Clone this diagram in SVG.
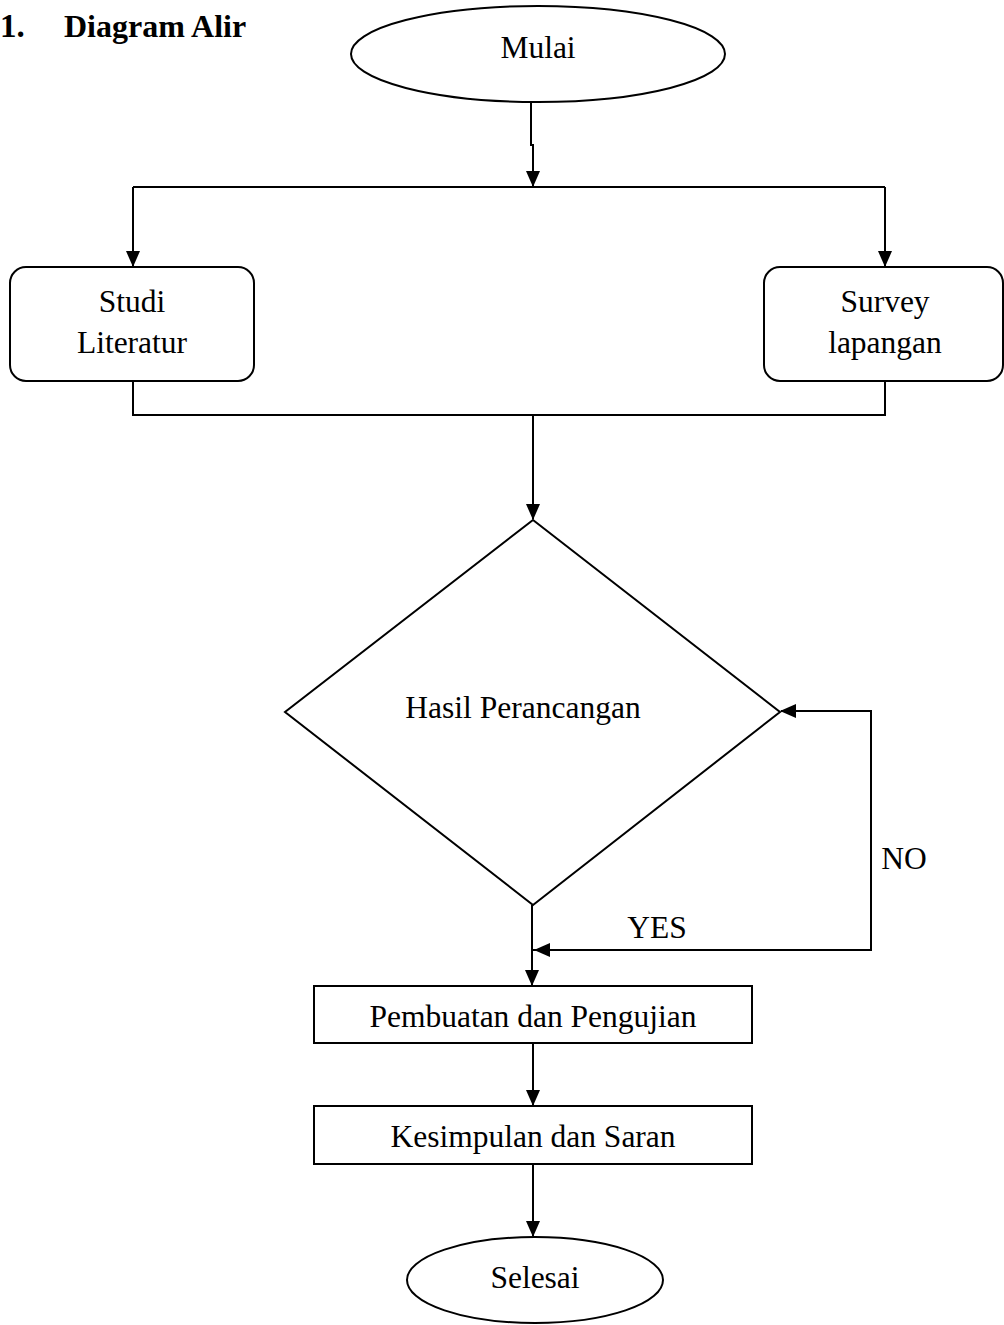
<svg xmlns="http://www.w3.org/2000/svg" width="1004" height="1325" viewBox="0 0 1004 1325">
<style>
.s{fill:#fff;stroke:#000;stroke-width:2}
.t{font-family:"Liberation Serif","Times New Roman",serif;font-size:31.5px;fill:#000;text-anchor:middle}
.h{font-family:"Liberation Serif","Times New Roman",serif;font-weight:bold;fill:#000}
.c{fill:none;stroke:#000;stroke-width:2}
</style>
<defs>
<marker id="a" markerWidth="16" markerHeight="14" refX="15" refY="7" orient="auto" markerUnits="userSpaceOnUse" viewBox="0 0 16 14">
<path d="M0,0 L16,7 L0,14 Z" fill="#000"/>
</marker>
</defs>
<rect width="1004" height="1325" fill="#fff"/>
<text class="h" x="0" y="37" font-size="33">1.</text>
<text class="h" x="64" y="37" font-size="32">Diagram Alir</text>
<g id="connectors">
<path class="c" d="M531,102 V145 H533 V186" marker-end="url(#a)"/>
<path class="c" d="M133,187 H885"/>
<path class="c" d="M133,187 V266" marker-end="url(#a)"/>
<path class="c" d="M885,187 V266" marker-end="url(#a)"/>
<path class="c" d="M133,381 V415 H885 V381"/>
<path class="c" d="M533,415 V519" marker-end="url(#a)"/>
<path class="c" d="M532,905 V985" marker-end="url(#a)"/>
<path class="c" d="M533,950 H871 V711 H781" marker-end="url(#a)"/>
<path class="c" d="M871,950 H535" marker-end="url(#a)"/>
<path class="c" d="M533,1043 V1105" marker-end="url(#a)"/>
<path class="c" d="M533,1164 V1236" marker-end="url(#a)"/>
<text class="t" x="904" y="869">NO</text>
<text class="t" x="657" y="938">YES</text>
</g>
<g id="mulai">
<ellipse class="s" cx="538" cy="54" rx="187" ry="48"/>
<text class="t" x="538" y="58">Mulai</text>
</g>
<g id="studi">
<rect class="s" x="10" y="267" width="244" height="114" rx="16"/>
<text class="t" x="132" y="312">Studi</text>
<text class="t" x="132" y="353">Literatur</text>
</g>
<g id="survey">
<rect class="s" x="764" y="267" width="239" height="114" rx="16"/>
<text class="t" x="885" y="312">Survey</text>
<text class="t" x="885" y="353">lapangan</text>
</g>
<g id="hasil">
<path class="s" d="M533,520 L780,712 L533,905 L285,712 Z"/>
<text class="t" x="523" y="718">Hasil Perancangan</text>
</g>
<g id="pembuatan">
<rect class="s" x="314" y="986" width="438" height="57"/>
<text class="t" x="533" y="1027">Pembuatan dan Pengujian</text>
</g>
<g id="kesimpulan">
<rect class="s" x="314" y="1106" width="438" height="58"/>
<text class="t" x="533" y="1147">Kesimpulan dan Saran</text>
</g>
<g id="selesai">
<ellipse class="s" cx="535" cy="1280" rx="128" ry="43"/>
<text class="t" x="535" y="1288">Selesai</text>
</g>
</svg>
